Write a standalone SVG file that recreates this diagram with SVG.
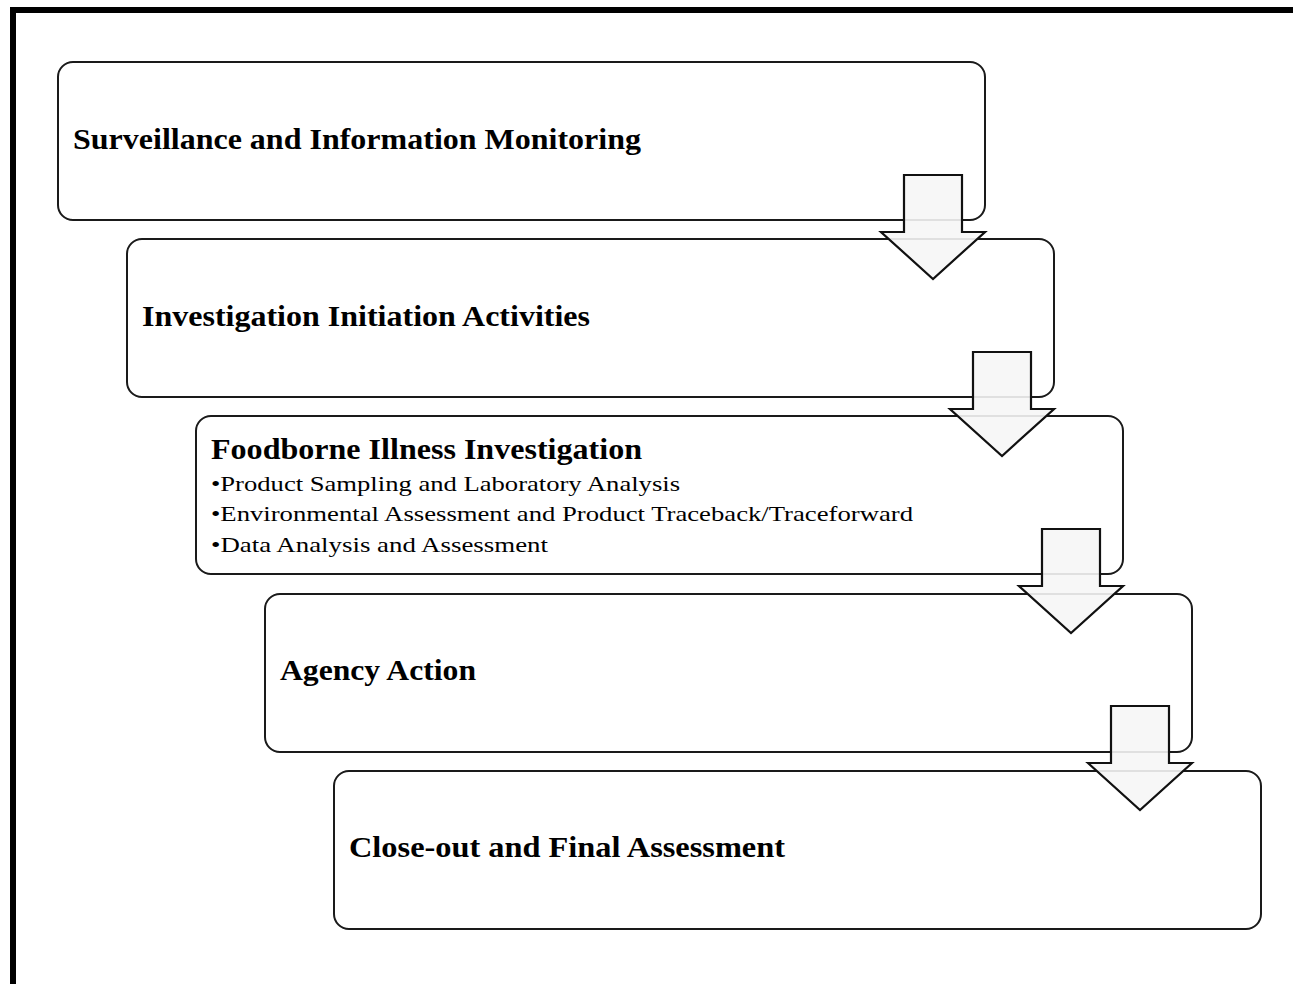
<svg xmlns="http://www.w3.org/2000/svg" width="1293" height="984" viewBox="0 0 1293 984">
<style>
.box{fill:#fff;stroke:#1a1a1a;stroke-width:2}
.arr{fill:#f6f6f6;fill-opacity:0.9;stroke:#111;stroke-width:2.2;stroke-linejoin:miter}
.h{font-family:"Liberation Serif","Times New Roman",serif;font-weight:bold;font-size:29px;fill:#000}
.b{font-family:"Liberation Serif","Times New Roman",serif;font-size:22px;fill:#000}
</style>
<rect width="1293" height="984" fill="#fff"/>
<path d="M13,984 V10 H1293" fill="none" stroke="#000" stroke-width="6"/>
<g id="node1"><rect class="box" x="58" y="62" width="927" height="158" rx="15"/>
<text class="h" x="73" y="149" textLength="568" lengthAdjust="spacingAndGlyphs">Surveillance and Information Monitoring</text></g>
<g id="node2"><rect class="box" x="127" y="239" width="927" height="158" rx="15"/>
<text class="h" x="142" y="326" textLength="448" lengthAdjust="spacingAndGlyphs">Investigation Initiation Activities</text></g>
<g id="node3"><rect class="box" x="196" y="416" width="927" height="158" rx="15"/>
<text class="h" x="211" y="459" textLength="431" lengthAdjust="spacingAndGlyphs">Foodborne Illness Investigation</text>
<text class="b" x="211" y="491" textLength="469" lengthAdjust="spacingAndGlyphs">•Product Sampling and Laboratory Analysis</text>
<text class="b" x="211" y="521" textLength="702" lengthAdjust="spacingAndGlyphs">•Environmental Assessment and Product Traceback/Traceforward</text>
<text class="b" x="211" y="552" textLength="337" lengthAdjust="spacingAndGlyphs">•Data Analysis and Assessment</text></g>
<g id="node4"><rect class="box" x="265" y="594" width="927" height="158" rx="15"/>
<text class="h" x="280" y="680" textLength="196" lengthAdjust="spacingAndGlyphs">Agency Action</text></g>
<g id="node5"><rect class="box" x="334" y="771" width="927" height="158" rx="15"/>
<text class="h" x="349" y="857" textLength="436" lengthAdjust="spacingAndGlyphs">Close-out and Final Assessment</text></g>
<g id="connectors">
<path class="arr" d="M904,175 h58 v57 h23 l-52,47 l-52,-47 h23 z"/>
<path class="arr" d="M973,352 h58 v57 h23 l-52,47 l-52,-47 h23 z"/>
<path class="arr" d="M1042,529 h58 v57 h23 l-52,47 l-52,-47 h23 z"/>
<path class="arr" d="M1111,706 h58 v57 h23 l-52,47 l-52,-47 h23 z"/>
</g>
</svg>
